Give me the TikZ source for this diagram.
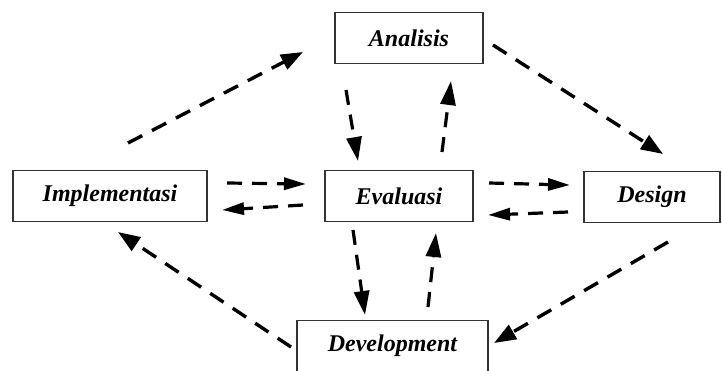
\documentclass[tikz,border=0pt]{standalone}
\usepackage{fontspec}
\setmainfont{Liberation Serif}
\usetikzlibrary{arrows.meta}
\begin{document}
\begin{tikzpicture}[x=1pt,y=-1pt,
  box/.style={draw=black!80,line width=1.2pt,inner sep=0pt,minimum height=51pt,
    font=\fontsize{24}{28}\selectfont\bfseries\itshape},
  flow/.style={line width=3.4pt,dash pattern=on 16pt off 11pt,
    -{Triangle[length=22pt,width=16pt]}},
  short/.style={line width=3.2pt,dash pattern=on 15pt off 10pt,
    -{Triangle[length=22pt,width=12pt]}}]
\useasboundingbox (0,0) rectangle (722,370);
% boxes
\node[box,minimum width=148pt] (ana) at (409,38) {Analisis};
\node[box,minimum width=194pt] (imp) at (110,196) {Implementasi};
\node[box,minimum width=148pt] (eva) at (399,196) {Evaluasi};
\node[box,minimum width=136pt] (des) at (652,197) {Design};
\node[box,minimum width=191pt] (dev) at (392.5,346) {Development};
% arrow end points
\coordinate (ia1) at (128,143); \coordinate (ia2) at (303,52);
\coordinate (ad1) at (493,45);  \coordinate (ad2) at (663,154);
\coordinate (dd1) at (668,242); \coordinate (dd2) at (494,343);
\coordinate (di1) at (291,347); \coordinate (di2) at (118,232);
\coordinate (ie1) at (227,183); \coordinate (ie2) at (306,184);
\coordinate (ei1) at (303,205); \coordinate (ei2) at (222,210);
\coordinate (ed1) at (489,183); \coordinate (ed2) at (570,185);
\coordinate (de1) at (568,212); \coordinate (de2) at (488,215);
\coordinate (ae1) at (346,90);  \coordinate (ae2) at (358,161);
\coordinate (ea1) at (442,152); \coordinate (ea2) at (451,81);
\coordinate (ev1) at (353,230); \coordinate (ev2) at (365,315);
\coordinate (ve1) at (428,307); \coordinate (ve2) at (436,233);
% outer cycle
\draw[flow] (ia1) -- (ia2);
\draw[flow] (ad1) -- (ad2);
\draw[flow] (dd1) -- (dd2);
\draw[flow] (di1) -- (di2);
% links with Evaluasi
\draw[short] (ie1) -- (ie2);
\draw[short] (ei1) -- (ei2);
\draw[short] (ed1) -- (ed2);
\draw[short] (de1) -- (de2);
\draw[short,-{Triangle[length=24pt,width=15pt]}] (ae1) -- (ae2);
\draw[short,-{Triangle[length=24pt,width=15pt]}] (ea1) -- (ea2);
\draw[short,-{Triangle[length=24pt,width=15pt]}] (ev1) -- (ev2);
\draw[short,-{Triangle[length=24pt,width=15pt]}] (ve1) -- (ve2);
\end{tikzpicture}
\end{document}
